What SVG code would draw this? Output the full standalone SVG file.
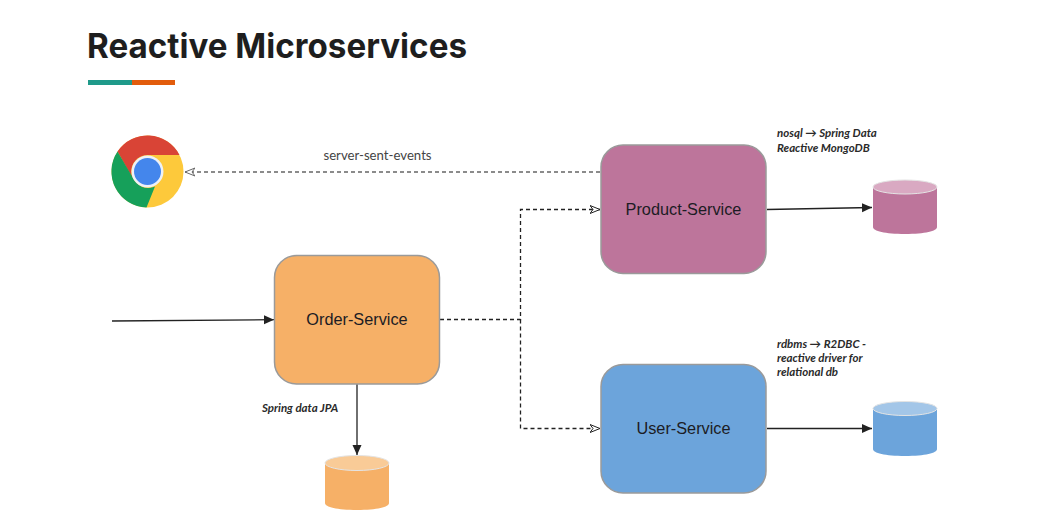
<svg xmlns="http://www.w3.org/2000/svg" width="1056" height="532" viewBox="0 0 1056 532">
<style>
.node{stroke:#9a9a9a;stroke-width:1.5}
.nl{font-family:"Liberation Sans",Arial,sans-serif;font-size:16.300px;text-anchor:middle;fill:#1c1c24}
.note{font-family:Lato,"Open Sans",sans-serif;font-size:11.500px;font-style:italic;font-weight:700;fill:#2a2a2a}
.solid{fill:none;stroke:#222;stroke-width:1.3}
.dash{fill:none;stroke:#222;stroke-width:1.3;stroke-dasharray:4 3}
.top{stroke:#e4e4e4;stroke-width:1}
</style>
<defs>
<marker id="tri" markerUnits="userSpaceOnUse" markerWidth="11" markerHeight="10" refX="10" refY="5" orient="auto"><path d="M0 0.500L10 5L0 9.500Z" fill="#222"/></marker>
<marker id="open" markerUnits="userSpaceOnUse" markerWidth="11" markerHeight="10" refX="10" refY="5" orient="auto"><path d="M0 1L10 5L0 9L3 5Z" fill="#fff" stroke="#222" stroke-width="1"/></marker>
<marker id="openg" markerUnits="userSpaceOnUse" markerWidth="11" markerHeight="10" refX="10" refY="5" orient="auto"><path d="M0 1L10 5L0 9L3 5Z" fill="#fff" stroke="#666" stroke-width="1"/></marker>
</defs>
<rect width="1056" height="532" fill="#fff"/>
<g id="title">
<text x="87" y="58" font-family="Inter,Lato,sans-serif" font-size="34" font-weight="700" fill="#1e1e1e" textLength="380" lengthAdjust="spacingAndGlyphs">Reactive Microservices</text>
<rect x="88" y="80" width="44" height="5" fill="#1f9a8a"/>
<rect x="132" y="80" width="43" height="5" fill="#e25c0c"/>
</g>
<g id="connectors">
<path class="solid" d="M112 321L274 319.700" marker-end="url(#tri)"/>
<path class="dash" d="M600 172H185" style="stroke:#666" marker-end="url(#openg)"/>
<path class="dash" d="M440 319.500H520.500V209.500H600" marker-end="url(#open)"/>
<path class="dash" d="M520.500 319.500V428.500H600" marker-end="url(#open)"/>
<path class="solid" d="M767 209.500L872 207.500" marker-end="url(#tri)"/>
<path class="solid" d="M767 428.500H872" marker-end="url(#tri)"/>
<path class="solid" d="M357 384V455" marker-end="url(#tri)"/>
<text x="377.500" y="160" font-family="Lato,'Open Sans',sans-serif" font-size="13.200" fill="#444" text-anchor="middle">server-sent-events</text>
</g>
<g id="chrome">
<circle cx="147.500" cy="171.500" r="36" fill="#fdc93b"/>
<path d="M117.500 151.500A36 36 0 0 1 179.500 155L147.500 155A16.500 16.500 0 0 0 132.500 178Z" fill="#d94436"/>
<path d="M117.500 151.500L133 178A16.500 16.500 0 0 0 155 186.500L146.500 207.500A36 36 0 0 1 117.500 151.500Z" fill="#16a05a"/>
<circle cx="147.500" cy="171.500" r="16" fill="#eef1f6"/>
<circle cx="147.500" cy="171.500" r="13.500" fill="#4486ec"/>
</g>
<g id="order-service">
<rect class="node" x="274.500" y="255.500" width="165" height="128.500" rx="22" fill="#f6b067"/>
<text class="nl" x="357" y="325">Order-Service</text>
<text class="note" x="262" y="412">Spring data JPA</text>
</g>
<g id="order-db">
<path d="M325 462V503C325 507 337 510 357 510C377 510 389 507 389 503V462Z" fill="#f6b067"/>
<ellipse class="top" cx="357" cy="463" rx="32" ry="7.500" fill="#f9cb97"/>
</g>
<g id="product-service">
<rect class="node" x="601" y="145" width="165" height="128.500" rx="22" fill="#bd759b"/>
<text class="nl" x="683.500" y="215">Product-Service</text>
<text class="note" x="777" y="137">nosql → Spring Data</text>
<text class="note" x="777" y="152">Reactive MongoDB</text>
</g>
<g id="product-db">
<path d="M873 187V227C873 231 885 234 905 234C925 234 937 231 937 227V187Z" fill="#bd759b"/>
<ellipse class="top" cx="905" cy="187" rx="32" ry="7" fill="#d9a9c2"/>
</g>
<g id="user-service">
<rect class="node" x="601" y="364.500" width="165" height="128.500" rx="22" fill="#6ca4db"/>
<text class="nl" x="683.500" y="434">User-Service</text>
<text class="note" x="777" y="348">rdbms → R2DBC -</text>
<text class="note" x="777" y="362">reactive driver for</text>
<text class="note" x="777" y="376">relational db</text>
</g>
<g id="user-db">
<path d="M873 408V449C873 453 885 456 905 456C925 456 937 453 937 449V408Z" fill="#6ca4db"/>
<ellipse class="top" cx="905" cy="408.500" rx="32" ry="7" fill="#a3c6e8"/>
</g>
</svg>
